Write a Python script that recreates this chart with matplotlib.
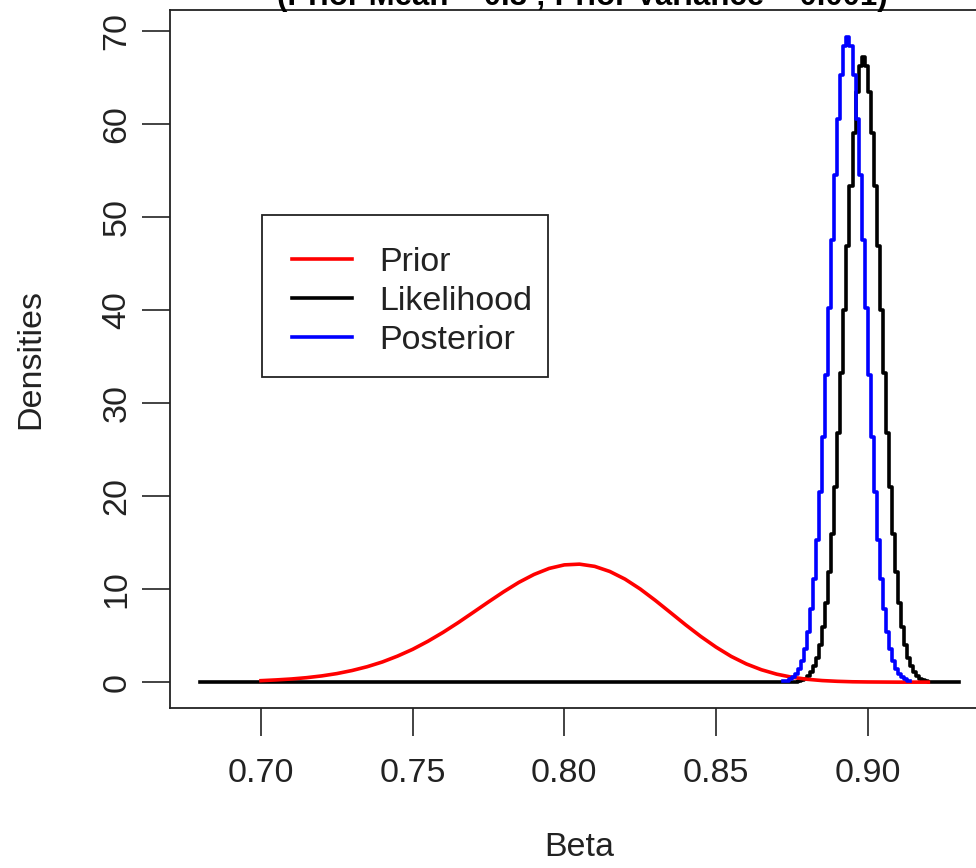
import numpy as np
import matplotlib
matplotlib.use('Agg')
import matplotlib.pyplot as plt
from matplotlib.patches import Rectangle

plt.rcParams['font.family'] = ['Liberation Sans', 'DejaVu Sans']

# prior density, grid 0.70 .. 0.92 by 0.005
prior_x = np.round(np.arange(0.700, 0.9201, 0.005), 3)
prior_y = [0.16, 0.24, 0.34, 0.48, 0.67, 0.92, 1.25, 1.66, 2.17, 2.80,
           3.53, 4.39, 5.35, 6.40, 7.51, 8.63, 9.72, 10.73, 11.58, 12.23,
           12.61, 12.69, 12.45, 11.90, 11.08, 10.02, 8.79, 7.48, 6.16, 4.91,
           3.77, 2.77, 1.96, 1.33, 0.86, 0.53, 0.31, 0.17, 0.09, 0.04,
           0.02, 0.01, 0.0, 0.0, 0.0]

# likelihood (black), zero from 0.68, peak region 0.875 .. 0.921 by 0.001, zero to 0.93
lik_x = np.concatenate([[0.68], np.round(np.arange(0.875, 0.9211, 0.001), 3), [0.93]])
lik_y = [0.0,
         0.03, 0.06, 0.12, 0.21, 0.38, 0.64, 1.06, 1.70, 2.65, 4.03,
         5.93, 8.49, 11.82, 15.98, 20.99, 26.80, 33.24, 40.07, 46.93, 53.40,
         59.05, 63.44, 66.24, 67.20, 66.24, 63.44, 59.05, 53.40, 46.93, 40.07,
         33.24, 26.80, 20.99, 15.98, 11.82, 8.49, 5.93, 4.03, 2.65, 1.70,
         1.06, 0.64, 0.38, 0.21, 0.12, 0.06, 0.03,
         0.0]

# posterior (blue), 0.872 .. 0.914 by 0.001
post_x = np.round(np.arange(0.872, 0.9141, 0.001), 3)
post_y = [0.08, 0.16, 0.30, 0.52, 0.88, 1.45, 2.31, 3.58, 5.39, 7.87,
          11.14, 15.30, 20.40, 26.37, 33.08, 40.27, 47.55, 54.49, 60.57, 65.33,
          68.36, 69.40, 68.36, 65.33, 60.57, 54.49, 47.55, 40.27, 33.08, 26.37,
          20.40, 15.30, 11.14, 7.87, 5.39, 3.58, 2.31, 1.45, 0.88, 0.52,
          0.30, 0.16, 0.08]

labels = ['Prior', 'Likelihood', 'Posterior']
xticks = [0.70, 0.75, 0.80, 0.85, 0.90]
yticks = [0, 10, 20, 30, 40, 50, 60, 70]

fs = 24.5
W, H = 976, 868
fig = plt.figure(figsize=(9.76, 8.68), dpi=100)
ax = fig.add_axes([170 / W, 1 - 708 / H, (989 - 170) / W, (708 - 10) / H])

ax.plot(lik_x, lik_y, color='black', lw=2.6, drawstyle='steps-post', label=labels[1])
ax.plot(prior_x, prior_y, color='red', lw=2.6, label=labels[0])
ax.plot(post_x, post_y, color='blue', lw=2.6, drawstyle='steps-post', label=labels[2])

ax.set_xlim(0.67, 0.94)
ax.set_ylim(-2.78, 72.28)
ax.set_xticks(xticks)
ax.set_xticklabels(['%.2f' % t for t in xticks], fontsize=fs)
ax.set_yticks(yticks)
ax.set_yticklabels([str(t) for t in yticks], fontsize=fs, rotation=90, va='center')
ax.tick_params(direction='out', length=20, width=1.2, colors='#222222', pad=16)
ax.tick_params(axis='y', pad=7)
for s in ax.spines.values():
    s.set_linewidth(1.3)
    s.set_color('#222222')

ax.set_xlabel('Beta', fontsize=fs, labelpad=31, color='#222222')
ax.set_ylabel('Densities', fontsize=fs, labelpad=40, color='#222222')

fig.text(582 / W, 1 - 5 / H, '(Prior Mean = 0.8 ; Prior Variance = 0.001)',
         fontsize=22.4, fontweight='bold', ha='center', va='baseline')

# legend box drawn by hand, entries without frame
fig.patches.append(Rectangle((262 / W, 1 - 377 / H), (548 - 262) / W, (377 - 215) / H,
                             transform=fig.transFigure, fill=False,
                             edgecolor='#222222', linewidth=1.3, zorder=5))
h, l = ax.get_legend_handles_labels()
order = [1, 0, 2]
leg = ax.legend([h[i] for i in order], [l[i] for i in order],
                loc='upper left', bbox_to_anchor=(292 / W, 1 - 247 / H),
                bbox_transform=fig.transFigure, fontsize=fs, frameon=False,
                handlelength=1.75, handletextpad=0.8, labelspacing=0.24,
                borderpad=0, borderaxespad=0)
for t in leg.get_texts():
    t.set_color('#222222')

fig.savefig('out.png', dpi=100)
